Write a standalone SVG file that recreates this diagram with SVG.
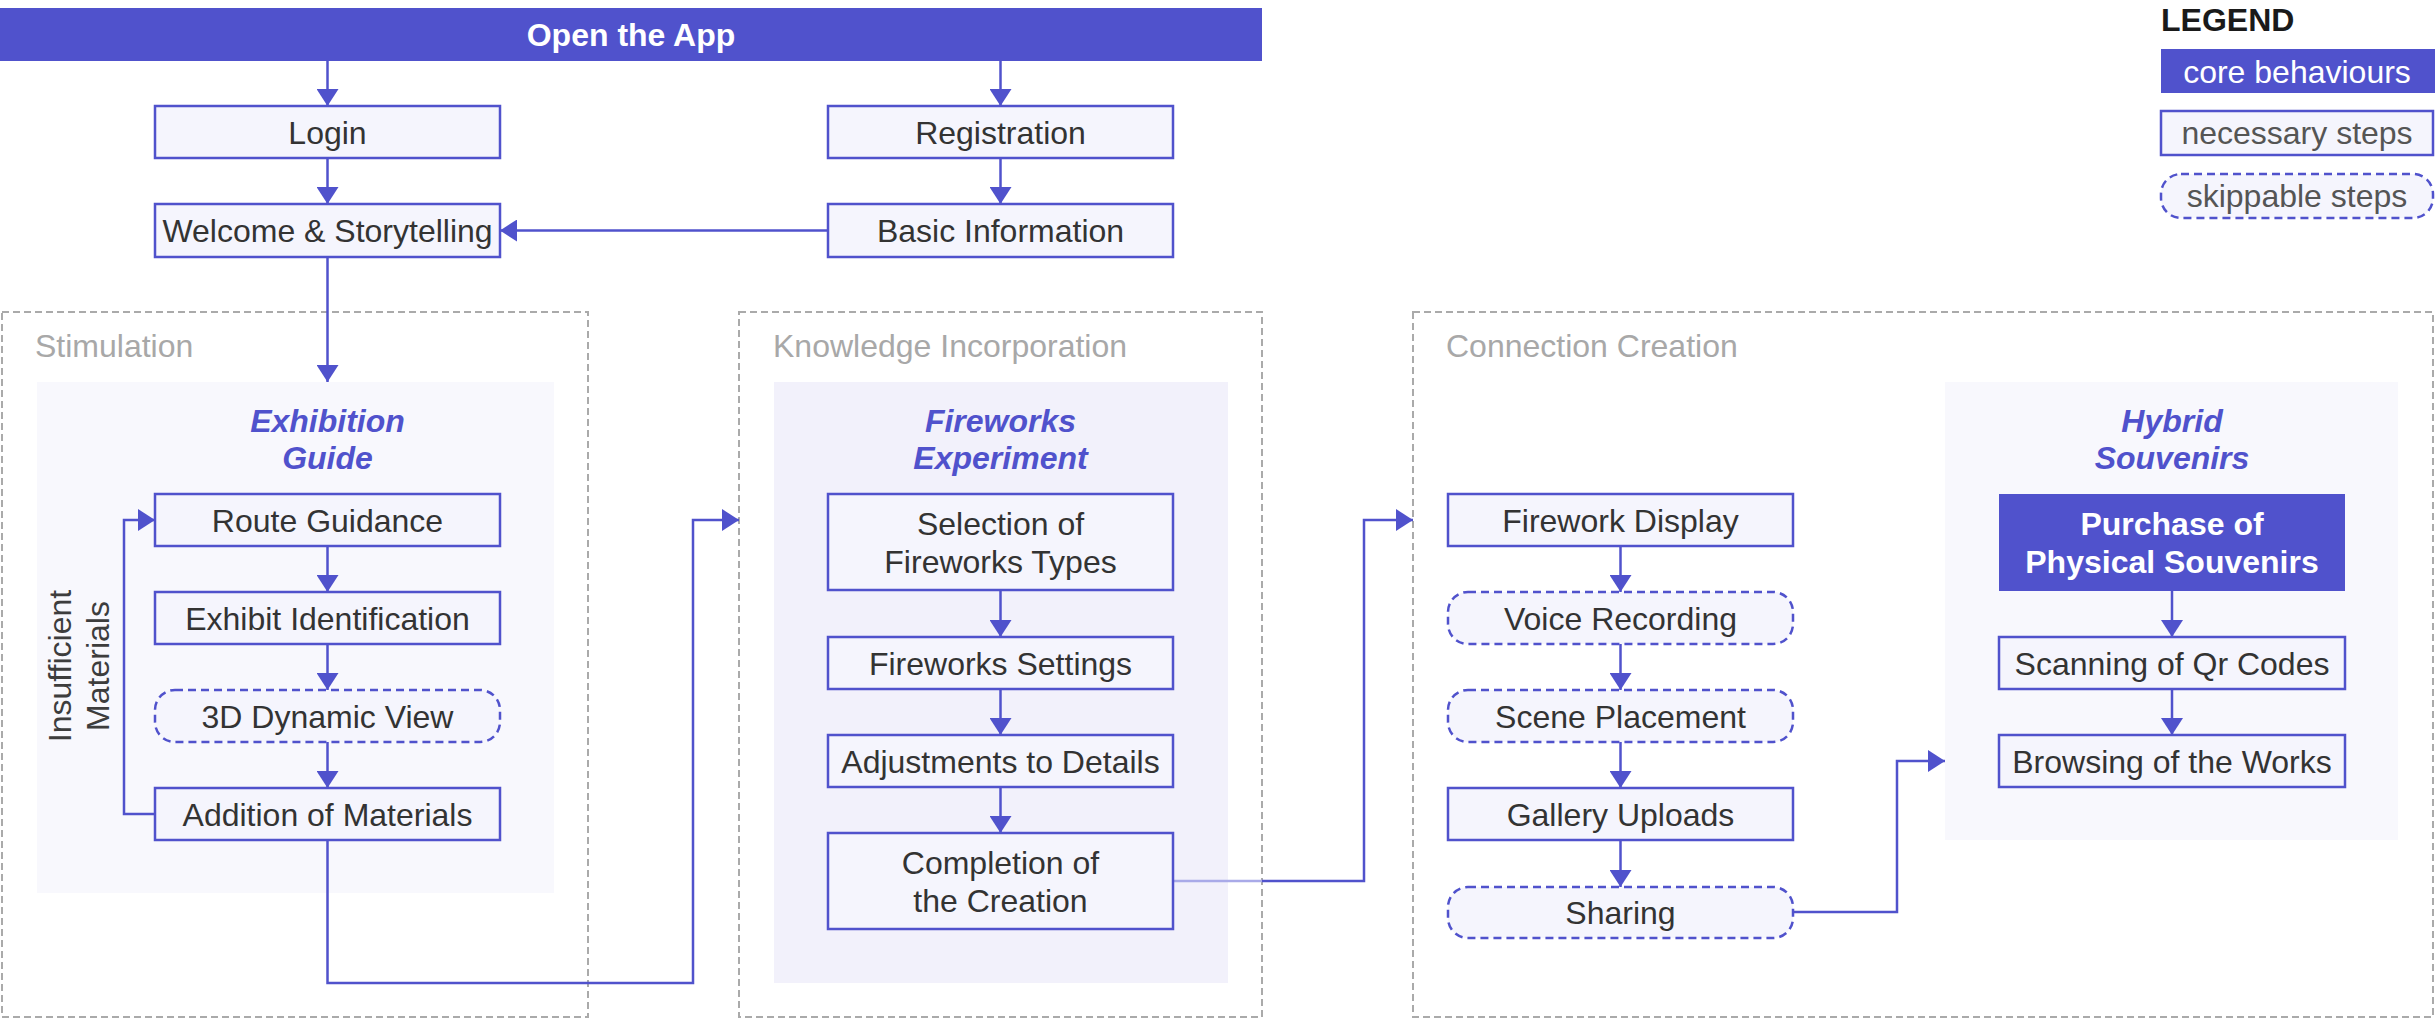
<svg xmlns="http://www.w3.org/2000/svg" width="2435" height="1019" viewBox="0 0 2435 1019">
<defs>
<marker id="arr" markerUnits="userSpaceOnUse" markerWidth="18" markerHeight="22" refX="17" refY="11" orient="auto" viewBox="0 0 18 22"><path d="M0,0 L17,11 L0,22 z" fill="#5052CC"/></marker>
</defs>
<style>
text{font-family:"Liberation Sans",Arial,Helvetica,sans-serif;}
.n{fill:#F5F5FD;stroke:#5052CC;stroke-width:2.5}
.s{fill:#F5F5FD;stroke:#5052CC;stroke-width:2.5;stroke-dasharray:8 5}
.c{fill:#5052CC}
.t{font-size:32px;fill:#333333;text-anchor:middle}
.tw{font-size:32px;fill:#ffffff;font-weight:bold;text-anchor:middle}
.ti{font-size:32px;fill:#5052CC;font-weight:bold;font-style:italic;text-anchor:middle}
.g{fill:none;stroke:#AAAAAA;stroke-width:2;stroke-dasharray:7 4}
.gl{font-size:32px;fill:#A8A8A8}
.cn{fill:none;stroke:#5052CC;stroke-width:2.5}
.lg{font-size:32px;fill:#555555;text-anchor:middle}
</style>
<rect x="0" y="0" width="2435" height="1019" fill="#ffffff"/>

<g id="group-stimulation">
<rect class="g" x="2" y="312" width="586" height="705"/>
<text class="gl" x="35" y="357">Stimulation</text>
<rect x="37" y="382" width="517" height="511" fill="#F8F8FD"/>
<text class="ti" x="327.5" y="432">Exhibition</text>
<text class="ti" x="327.5" y="469">Guide</text>
<text font-size="32" fill="#3d3d3d" text-anchor="middle" transform="translate(71,666) rotate(-90)">Insufficient</text>
<text font-size="32" fill="#3d3d3d" text-anchor="middle" transform="translate(109,666) rotate(-90)">Materials</text>
</g>
<g id="group-knowledge">
<rect class="g" x="739" y="312" width="523" height="705"/>
<text class="gl" x="773" y="357">Knowledge Incorporation</text>
<rect x="774" y="382" width="454" height="601" fill="#F2F1FB"/>
<text class="ti" x="1000.5" y="432">Fireworks</text>
<text class="ti" x="1000.5" y="469">Experiment</text>
</g>
<g id="group-connection">
<rect class="g" x="1413" y="312" width="1020" height="705"/>
<text class="gl" x="1446" y="357">Connection Creation</text>
<rect x="1945" y="382" width="453" height="458" fill="#F8F8FD"/>
<text class="ti" x="2172" y="432">Hybrid</text>
<text class="ti" x="2172" y="469">Souvenirs</text>
</g>

<g id="connectors">
<path class="cn" d="M327.5,61 V106" marker-end="url(#arr)"/>
<path class="cn" d="M1000.5,61 V106" marker-end="url(#arr)"/>
<path class="cn" d="M327.5,158 V204" marker-end="url(#arr)"/>
<path class="cn" d="M1000.5,158 V204" marker-end="url(#arr)"/>
<path class="cn" d="M828,230.5 H500" marker-end="url(#arr)"/>
<path class="cn" d="M327.5,257 V382" marker-end="url(#arr)"/>
<path class="cn" d="M327.5,546 V592" marker-end="url(#arr)"/>
<path class="cn" d="M327.5,644 V690" marker-end="url(#arr)"/>
<path class="cn" d="M327.5,742 V788" marker-end="url(#arr)"/>
<path class="cn" d="M155,814 H124 V520 H155" marker-end="url(#arr)"/>
<path class="cn" d="M327.5,840 V983 H693 V520 H739" marker-end="url(#arr)"/>
<path class="cn" d="M1000.5,590 V637" marker-end="url(#arr)"/>
<path class="cn" d="M1000.5,689 V735" marker-end="url(#arr)"/>
<path class="cn" d="M1000.5,787 V833" marker-end="url(#arr)"/>
<path fill="none" stroke="#A9AAE8" stroke-width="2.5" d="M1173,881 H1262"/>
<path class="cn" d="M1262,881 H1364 V520 H1413" marker-end="url(#arr)"/>
<path class="cn" d="M1620.5,546 V592" marker-end="url(#arr)"/>
<path class="cn" d="M1620.5,644 V690" marker-end="url(#arr)"/>
<path class="cn" d="M1620.5,742 V788" marker-end="url(#arr)"/>
<path class="cn" d="M1620.5,840 V887" marker-end="url(#arr)"/>
<path class="cn" d="M1793,912 H1897 V761 H1945" marker-end="url(#arr)"/>
<path class="cn" d="M2172,591 V637" marker-end="url(#arr)"/>
<path class="cn" d="M2172,689 V735" marker-end="url(#arr)"/>
</g>

<g id="open-app"><rect class="c" x="0" y="8" width="1262" height="53"/><text class="tw" x="631" y="45.5">Open the App</text></g>
<g id="login"><rect class="n" x="155" y="106" width="345" height="52"/><text class="t" x="327.5" y="143.5">Login</text></g>
<g id="registration"><rect class="n" x="828" y="106" width="345" height="52"/><text class="t" x="1000.5" y="143.5">Registration</text></g>
<g id="welcome"><rect class="n" x="155" y="204" width="345" height="53"/><text class="t" x="327.5" y="242">Welcome &amp; Storytelling</text></g>
<g id="basic-info"><rect class="n" x="828" y="204" width="345" height="53"/><text class="t" x="1000.5" y="242">Basic Information</text></g>

<g id="route-guidance"><rect class="n" x="155" y="494" width="345" height="52"/><text class="t" x="327.5" y="531.5">Route Guidance</text></g>
<g id="exhibit-identification"><rect class="n" x="155" y="592" width="345" height="52"/><text class="t" x="327.5" y="629.5">Exhibit Identification</text></g>
<g id="dynamic-view"><rect class="s" x="155" y="690" width="345" height="52" rx="20"/><text class="t" x="327.5" y="727.5">3D Dynamic View</text></g>
<g id="addition-materials"><rect class="n" x="155" y="788" width="345" height="52"/><text class="t" x="327.5" y="825.5">Addition of Materials</text></g>

<g id="selection-types"><rect class="n" x="828" y="494" width="345" height="96"/><text class="t" x="1000.5" y="535">Selection of</text><text class="t" x="1000.5" y="573">Fireworks Types</text></g>
<g id="fireworks-settings"><rect class="n" x="828" y="637" width="345" height="52"/><text class="t" x="1000.5" y="674.5">Fireworks Settings</text></g>
<g id="adjustments"><rect class="n" x="828" y="735" width="345" height="52"/><text class="t" x="1000.5" y="772.5">Adjustments to Details</text></g>
<g id="completion"><rect class="n" x="828" y="833" width="345" height="96"/><text class="t" x="1000.5" y="874">Completion of</text><text class="t" x="1000.5" y="912">the Creation</text></g>

<g id="firework-display"><rect class="n" x="1448" y="494" width="345" height="52"/><text class="t" x="1620.5" y="531.5">Firework Display</text></g>
<g id="voice-recording"><rect class="s" x="1448" y="592" width="345" height="52" rx="20"/><text class="t" x="1620.5" y="629.5">Voice Recording</text></g>
<g id="scene-placement"><rect class="s" x="1448" y="690" width="345" height="52" rx="20"/><text class="t" x="1620.5" y="727.5">Scene Placement</text></g>
<g id="gallery-uploads"><rect class="n" x="1448" y="788" width="345" height="52"/><text class="t" x="1620.5" y="825.5">Gallery Uploads</text></g>
<g id="sharing"><rect class="s" x="1448" y="887" width="345" height="51" rx="20"/><text class="t" x="1620.5" y="924">Sharing</text></g>

<g id="purchase"><rect class="c" x="1999" y="494" width="346" height="97"/><text class="tw" x="2172" y="535">Purchase of</text><text class="tw" x="2172" y="573">Physical Souvenirs</text></g>
<g id="scanning"><rect class="n" x="1999" y="637" width="346" height="52"/><text class="t" x="2172" y="674.5">Scanning of Qr Codes</text></g>
<g id="browsing"><rect class="n" x="1999" y="735" width="346" height="52"/><text class="t" x="2172" y="772.5">Browsing of the Works</text></g>

<g id="legend">
<text x="2161" y="31" font-size="32" font-weight="bold" fill="#1a1a1a">LEGEND</text>
<rect class="c" x="2161" y="49" width="274" height="44"/><text x="2297" y="82.5" font-size="32" fill="#ffffff" text-anchor="middle">core behaviours</text>
<rect class="n" x="2161" y="111" width="272" height="44"/><text class="lg" x="2297" y="144">necessary steps</text>
<rect class="s" x="2161" y="174" width="272" height="44" rx="20"/><text class="lg" x="2297" y="207">skippable steps</text>
</g>
</svg>
